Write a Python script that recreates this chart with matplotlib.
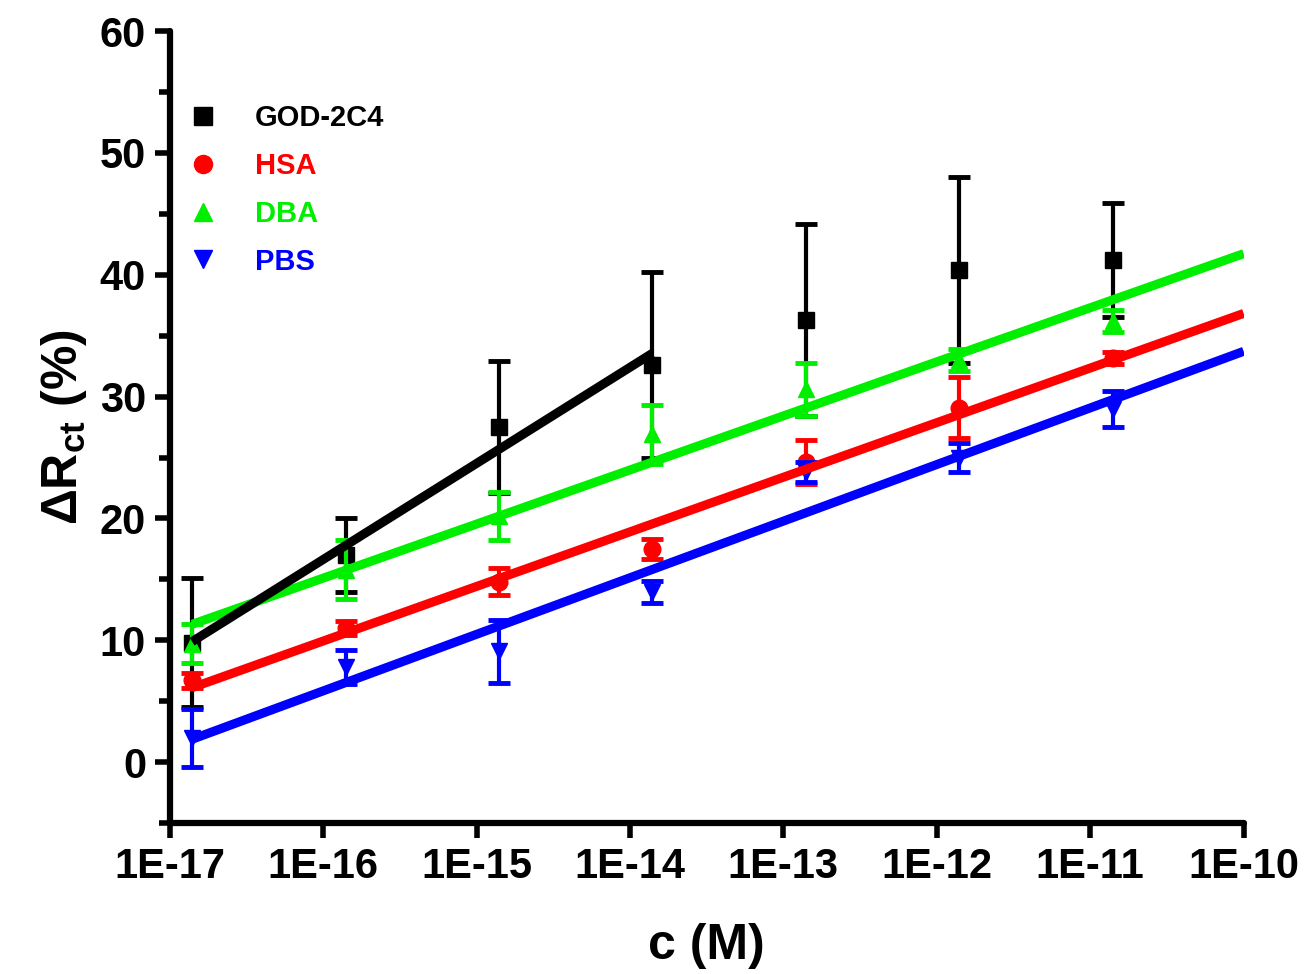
import numpy as np
import matplotlib
matplotlib.use("Agg")
import matplotlib.pyplot as plt
from matplotlib.lines import Line2D
from matplotlib.ticker import FixedLocator, MultipleLocator, FuncFormatter

plt.rcParams['font.family'] = ['Liberation Sans', 'DejaVu Sans']
plt.rcParams['font.weight'] = 'bold'
plt.rcParams['mathtext.fontset'] = 'custom'
plt.rcParams['mathtext.rm'] = 'Liberation Sans:bold'
plt.rcParams['mathtext.bf'] = 'Liberation Sans:bold'
plt.rcParams['mathtext.it'] = 'Liberation Sans:bold'

# concentrations (M)
conc = [1.4e-17, 1.4e-16, 1.4e-15, 1.4e-14, 1.4e-13, 1.4e-12, 1.4e-11]

god_y = [9.8, 17.0, 27.5, 32.6, 36.3, 40.4, 41.2]
god_err = [5.3, 3.0, 5.4, 7.6, 7.9, 7.6, 4.7]
hsa_y = [6.7, 11.0, 14.8, 17.5, 24.6, 29.1, 33.2]
hsa_err = [0.6, 0.6, 1.1, 0.8, 1.8, 2.5, 0.5]
dba_y = [9.7, 15.8, 20.2, 26.9, 30.6, 33.0, 36.2]
dba_err = [1.6, 2.4, 2.0, 2.4, 2.2, 0.9, 0.9]
pbs_y = [2.0, 7.8, 9.1, 14.0, 23.8, 25.0, 29.0]
pbs_err = [2.4, 1.4, 2.6, 0.9, 0.8, 1.2, 1.5]

labels = ["GOD-2C4", "HSA", "DBA", "PBS"]
colors = ["black", "#ff0000", "#00ee00", "#0000ff"]
markers = ["s", "o", "^", "v"]
ys = [god_y, hsa_y, dba_y, pbs_y]
errs = [god_err, hsa_err, dba_err, pbs_err]
# number of points used in the linear fit, fit line end
fit_n = [4, 7, 7, 7]
fit_end = [1.4e-14, 1e-10, 1e-10, 1e-10]

fig = plt.figure(figsize=(13.05, 9.74), dpi=100)
ax = fig.add_axes([0.130, 0.155, 0.823, 0.813])

lx = np.log10(conc)
for i in range(4):
    ax.errorbar(conc, ys[i], yerr=errs[i], fmt=markers[i], color=colors[i],
                ms=12, elinewidth=3, capsize=8, capthick=3.5, zorder=3 + i)

line_z = [9, 7, 8, 6]
for i in range(4):
    n = fit_n[i]
    k, b = np.polyfit(lx[:n], np.array(ys[i][:n]), 1)
    xs = np.array([lx[0], np.log10(fit_end[i])])
    ax.plot(10 ** xs, k * xs + b, color=colors[i], lw=6.5,
            solid_capstyle='butt', zorder=line_z[i])

ax.set_xscale('log')
ax.set_xlim(1e-17, 1e-10)
ax.set_ylim(-5, 60)
ax.xaxis.set_major_locator(FixedLocator([10.0 ** e for e in range(-17, -9)]))
ax.xaxis.set_minor_locator(FixedLocator([]))
ax.xaxis.set_major_formatter(FuncFormatter(lambda v, p: "1E%d" % round(np.log10(v))))
ax.yaxis.set_major_locator(MultipleLocator(10))
ax.yaxis.set_minor_locator(MultipleLocator(5))

for s in ['top', 'right']:
    ax.spines[s].set_visible(False)
for s in ['left', 'bottom']:
    ax.spines[s].set_linewidth(4.5)
    ax.spines[s].set_capstyle('round')

ax.tick_params(which='major', direction='out', length=11, width=4,
               labelsize=30, pad=6)
ax.tick_params(which='minor', direction='out', length=8, width=4)
for t in ax.get_xticklabels() + ax.get_yticklabels():
    t.set_fontweight('bold')

ax.set_xlabel("c (M)", fontsize=36, fontweight='bold', labelpad=26)
ax.set_ylabel(r"$\Delta$R$_{\mathrm{ct}}$ (%)", fontsize=36,
              fontweight='bold', labelpad=8)

handles = [Line2D([], [], ls='none', marker=m, color=c, ms=13)
           for m, c in zip(markers, colors)]
leg = ax.legend(handles, labels, loc='upper left',
                bbox_to_anchor=(-0.014, 0.941),
                frameon=False, fontsize=21, handletextpad=1.05,
                labelspacing=0.68, handlelength=1.5)
for txt, c in zip(leg.get_texts(), colors):
    txt.set_color(c)
    txt.set_fontweight('bold')

fig.savefig("out.png", dpi=100)
